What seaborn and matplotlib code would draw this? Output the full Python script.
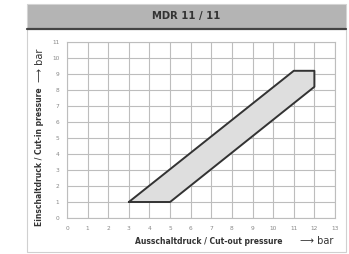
import matplotlib
matplotlib.use("Agg")
import matplotlib.pyplot as plt
from matplotlib.patches import Rectangle
from matplotlib.lines import Line2D
import seaborn as sns

# switching range polygon (cut-out pressure, cut-in pressure), bar
cut_out = [3, 5, 12, 12, 11, 3]
cut_in = [1, 1, 8.2, 9.2, 9.2, 1]
x_ticks = list(range(0, 14))
y_ticks = list(range(0, 12))
title = "MDR 11 / 11"

sns.set_style("white")
plt.rcParams['font.family'] = ['DejaVu Sans']

W, H = 349, 254
fig = plt.figure(figsize=(W / 100, H / 100), dpi=100)

# outer frame and title bar
fig.patches.append(Rectangle((27 / W, 1 - 252 / H), 319 / W, 248 / H,
                             transform=fig.transFigure, facecolor='white',
                             edgecolor='#d0d0d0', lw=0.8, zorder=-2))
fig.patches.append(Rectangle((27 / W, 1 - 28 / H), 319 / W, 24 / H,
                             transform=fig.transFigure, facecolor='#b4b4b4',
                             edgecolor='#d8d8d8', lw=0.6, zorder=-1))
fig.lines.append(Line2D([27 / W, 346 / W], [1 - 28.5 / H, 1 - 28.5 / H],
                        transform=fig.transFigure, color='#444444', lw=1.6))
fig.text(186 / W, 1 - 16 / H, title, ha='center', va='center',
         fontsize=7.2, fontweight='bold', color='#333333')

ax = fig.add_axes([67 / W, 1 - 218 / H, 268 / W, 176 / H])
ax.set_zorder(5)
ax.fill(cut_out, cut_in, color='#dedede', zorder=2)
sns.lineplot(x=cut_out, y=cut_in, sort=False, estimator=None, ax=ax,
             color='#333333', lw=1.4, zorder=3)

ax.set_xlim(0, 13)
ax.set_ylim(0, 11)
ax.set_xticks(x_ticks)
ax.set_yticks(y_ticks)
ax.tick_params(labelsize=4.2, colors='#888888', length=1.5, width=0.5, pad=4)
ax.grid(True, color='#bdbdbd', lw=0.8)
for s in ax.spines.values():
    s.set_color('#bdbdbd')
    s.set_linewidth(0.8)

fig.text(209 / W, 1 - 241 / H, "Ausschaltdruck / Cut-out pressure",
         ha='center', va='center', fontsize=5.5, fontweight='bold', color='#333333')
fig.text(317 / W, 1 - 241 / H, "\u27f6 bar", ha='center', va='center',
         fontsize=7, color='#333333')
fig.text(40 / W, 1 - 157 / H, "Einschaltdruck / Cut-in pressure",
         ha='center', va='center', rotation=90, fontsize=5.5,
         fontweight='bold', color='#333333')
fig.text(40 / W, 1 - 65 / H, "\u27f6 bar", ha='center', va='center',
         rotation=90, fontsize=7, color='#333333')

fig.savefig("out.png", dpi=100)
